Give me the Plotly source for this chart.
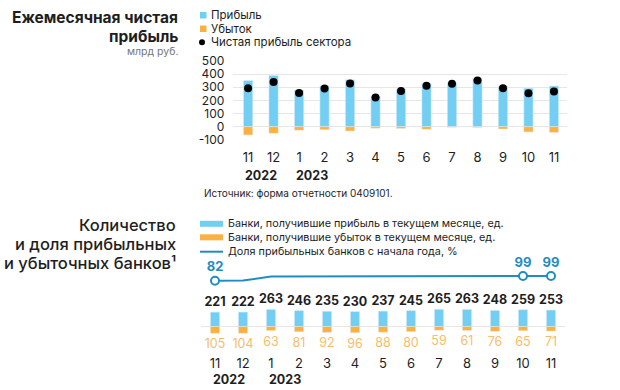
import plotly.graph_objects as go

# ---------------- data ----------------
months = ["11", "12", "1", "2", "3", "4", "5", "6", "7", "8", "9", "10", "11"]
year_labels = ["2022", "2023"]
year_start_idx = [0, 2]

profit = [352, 390, 279, 310, 357, 234, 285, 328, 335, 367, 309, 293, 309]
loss = [-63, -51, -28, -23, -33, -12, -14, -20, -4, -6, -18, -40, -44]
net = [292, 340, 257, 291, 328, 222, 271, 312, 326, 352, 292, 254, 267]
y_ticks = [-100, 0, 100, 200, 300, 400, 500]

profit_banks = [221, 222, 263, 246, 235, 230, 237, 245, 265, 263, 248, 259, 253]
loss_banks = [105, 104, 63, 81, 92, 96, 88, 80, 59, 61, 76, 65, 71]
share_profitable = [82, 83, 97, 97, 98, 98, 98, 99, 99, 99, 99, 99, 99]
share_labeled = [0, 11, 12]

# ---------------- style ----------------
W, H = 620, 390
FONT = "Inter"
BLUE = "#72cff3"
ORANGE = "#fbb040"
ORANGE_TXT = "#f8bd6a"
LINE = "#1f8dc2"
DARK = "#1e1e1e"
GRID = "#e6e6e6"


def px(x):
    return x / W


def py(y):
    return 1 - y / H


idx = list(range(len(months)))

fig = go.Figure()

# ---- top chart ----
fig.add_trace(go.Bar(x=idx, y=profit, marker_color=BLUE, width=0.365,
                     xaxis="x", yaxis="y", showlegend=False, hoverinfo="skip"))
fig.add_trace(go.Bar(x=idx, y=loss, marker_color=ORANGE, width=0.365,
                     xaxis="x", yaxis="y", showlegend=False, hoverinfo="skip"))
fig.add_trace(go.Scatter(x=idx, y=net, mode="markers",
                         marker=dict(color="black", size=8),
                         xaxis="x", yaxis="y", showlegend=False, hoverinfo="skip"))

# ---- bottom chart ----
fig.add_trace(go.Bar(x=idx, y=profit_banks, marker_color=BLUE, width=0.33,
                     text=[str(v) for v in profit_banks], textposition="outside",
                     textfont=dict(family=FONT, size=12.5, color=DARK, weight="bold"),
                     cliponaxis=False, constraintext="none",
                     xaxis="x2", yaxis="y2", showlegend=False, hoverinfo="skip"))
fig.add_trace(go.Bar(x=idx, y=[-v for v in loss_banks], marker_color=ORANGE, width=0.33,
                     text=[str(v) for v in loss_banks], textposition="outside",
                     textfont=dict(family=FONT, size=12.5, color=ORANGE_TXT),
                     cliponaxis=False, constraintext="none",
                     xaxis="x2", yaxis="y2", showlegend=False, hoverinfo="skip"))
fig.add_trace(go.Scatter(x=idx, y=share_profitable, mode="lines",
                         line=dict(color=LINE, width=2),
                         xaxis="x2", yaxis="y3", showlegend=False, hoverinfo="skip"))
fig.add_trace(go.Scatter(x=[idx[i] for i in share_labeled],
                         y=[share_profitable[i] for i in share_labeled],
                         mode="markers+text",
                         text=[str(share_profitable[i]) for i in share_labeled],
                         textposition="top center",
                         textfont=dict(family=FONT, size=13, color=LINE, weight="bold"),
                         marker=dict(color="white", size=8, line=dict(color=LINE, width=2)),
                         cliponaxis=False,
                         xaxis="x2", yaxis="y3", showlegend=False, hoverinfo="skip"))

# axes geometry
top_x_dom = [px(233.3), px(566.7)]
top_y_dom = [py(139.8), py(61.0)]
bot_x_dom = [px(201), px(565)]
bot_y_dom = [py(350), py(300)]
line_y_dom = [py(290), py(262)]

fig.update_layout(
    width=W, height=H, autosize=False,
    margin=dict(l=0, r=0, t=0, b=0, pad=0, autoexpand=False),
    paper_bgcolor="white", plot_bgcolor="white",
    barmode="relative",
    font=dict(family=FONT, color=DARK),
    xaxis=dict(domain=top_x_dom, anchor="y", range=[-0.58, 12.5], automargin=False,
               tickmode="array", tickvals=idx, ticktext=months,
               tickfont=dict(size=13, color=DARK), showgrid=False, zeroline=False,
               showline=False, ticks="", ticklabelstandoff=8, fixedrange=True),
    yaxis=dict(domain=top_y_dom, anchor="x", range=[-100, 500], automargin=False,
               tickmode="array", tickvals=y_ticks, ticktext=[str(v) for v in y_ticks],
               tickfont=dict(size=12, color=DARK), showgrid=True, gridcolor=GRID,
               gridwidth=1, zeroline=True, zerolinecolor=GRID, zerolinewidth=1,
               showline=False, ticks="", ticklabelstandoff=8, fixedrange=True),
    xaxis2=dict(domain=bot_x_dom, anchor="y2", range=[-0.5, 12.5], automargin=False,
                tickmode="array", tickvals=idx, ticktext=months,
                tickfont=dict(size=13, color=DARK), showgrid=False, zeroline=False,
                showline=False, ticks="", ticklabelstandoff=4, fixedrange=True),
    yaxis2=dict(domain=bot_y_dom, anchor="x2", range=[-361.5, 407.7], automargin=False,
                showticklabels=False, showgrid=False, zeroline=True,
                zerolinecolor=GRID, zerolinewidth=1, showline=False, ticks="",
                fixedrange=True),
    yaxis3=dict(domain=line_y_dom, anchor="x2", range=[48.3, 149.8], automargin=False,
                showticklabels=False, showgrid=False, zeroline=False,
                showline=False, ticks="", fixedrange=True),
)

ann = []
shapes = []

# titles
ann.append(dict(text="<b>Ежемесячная чистая</b>", x=px(180), y=py(17.3), xref="paper", yref="paper",
                xanchor="right", yanchor="middle", showarrow=False,
                font=dict(size=15.5, color=DARK, family=FONT)))
ann.append(dict(text="<b>прибыль</b>", x=px(180), y=py(36.7), xref="paper", yref="paper",
                xanchor="right", yanchor="middle", showarrow=False,
                font=dict(size=15.5, color=DARK, family=FONT)))
ann.append(dict(text="млрд руб.", x=px(180), y=py(51.7), xref="paper", yref="paper",
                xanchor="right", yanchor="middle", showarrow=False,
                font=dict(size=10.5, color="#777777", family=FONT)))

for t, yy in [("Количество", 225), ("и доля прибыльных", 244.3), ("и убыточных банков¹", 263.3)]:
    ann.append(dict(text=t, x=px(178), y=py(yy), xref="paper", yref="paper",
                    xanchor="right", yanchor="middle", showarrow=False,
                    font=dict(size=16.5, color=DARK, family=FONT, weight=500)))

# top legend
top_leg = [("Прибыль", 15.2), ("Убыток", 28.7), ("Чистая прибыль сектора", 42.2)]
for t, yy in top_leg:
    ann.append(dict(text=t, x=px(209), y=py(yy), xref="paper", yref="paper",
                    xanchor="left", yanchor="middle", showarrow=False,
                    font=dict(size=11.5, color=DARK, family=FONT)))
shapes.append(dict(type="rect", xref="paper", yref="paper", x0=px(200), x1=px(206.5),
                   y0=py(18.5), y1=py(12), fillcolor=BLUE, line=dict(width=0)))
shapes.append(dict(type="rect", xref="paper", yref="paper", x0=px(200), x1=px(206.5),
                   y0=py(32), y1=py(25.5), fillcolor=ORANGE, line=dict(width=0)))
shapes.append(dict(type="circle", xref="paper", yref="paper", x0=px(199), x1=px(205),
                   y0=py(45.2), y1=py(39.2), fillcolor="black", line=dict(width=0)))

# bottom legend
bot_leg = [("Банки, получившие прибыль в текущем месяце, ед.", 224),
           ("Банки, получившие убыток в текущем месяце, ед.", 237.5),
           ("Доля прибыльных банков с начала года, %", 251.5)]
for t, yy in bot_leg:
    ann.append(dict(text=t, x=px(226), y=py(yy), xref="paper", yref="paper",
                    xanchor="left", yanchor="middle", showarrow=False,
                    font=dict(size=10.8, color=DARK, family=FONT)))
shapes.append(dict(type="rect", xref="paper", yref="paper", x0=px(200), x1=px(223),
                   y0=py(226.8), y1=py(220.8), fillcolor=BLUE, line=dict(width=0)))
shapes.append(dict(type="rect", xref="paper", yref="paper", x0=px(200), x1=px(223),
                   y0=py(240.3), y1=py(234.3), fillcolor=ORANGE, line=dict(width=0)))
shapes.append(dict(type="line", xref="paper", yref="paper", x0=px(200), x1=px(223),
                   y0=py(251.7), y1=py(251.7), line=dict(color=LINE, width=2)))

# years
for yl, i in zip(year_labels, year_start_idx):
    ann.append(dict(text="<b>%s</b>" % yl, x=i, y=py(175.7), xref="x", yref="paper",
                    xanchor="left", yanchor="middle", xshift=-5, showarrow=False,
                    font=dict(size=12.5, color=DARK, family=FONT)))
    ann.append(dict(text="<b>%s</b>" % yl, x=i, y=py(379.3), xref="x2", yref="paper",
                    xanchor="left", yanchor="middle", xshift=-4, showarrow=False,
                    font=dict(size=12.5, color=DARK, family=FONT)))

# source
ann.append(dict(text="Источник: форма отчетности 0409101.", x=px(202), y=py(192.7),
                xref="paper", yref="paper", xanchor="left", yanchor="middle",
                showarrow=False, font=dict(size=10, color=DARK, family=FONT)))

fig.update_layout(annotations=ann, shapes=shapes)
fig.write_html("out.html", config={"displayModeBar": False},
               post_script="document.body.style.margin='0';")
